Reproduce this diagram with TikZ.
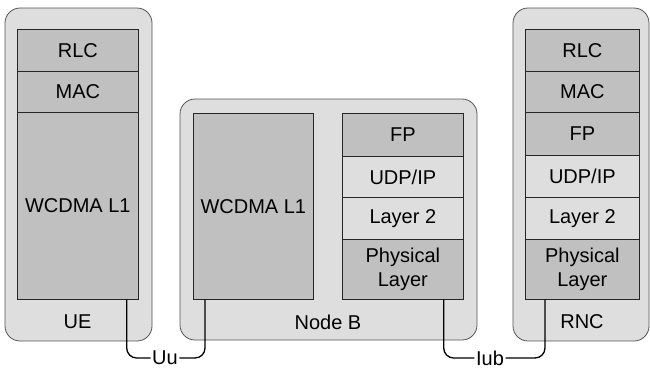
\documentclass[tikz,border=0pt]{standalone}
\usepackage{fontspec}
\setmainfont{Liberation Sans}
\definecolor{shell}{HTML}{DEDEDE}
\definecolor{layerdark}{HTML}{C0C0C0}
\definecolor{shellline}{HTML}{555555}
\begin{document}
\begin{tikzpicture}[x=1pt,y=-1pt,
    font=\fontsize{20}{24.5}\selectfont,
    box/.style={draw=shellline, fill=shell, line width=0.8pt, rounded corners=15pt},
    dark/.style={draw=black!85, fill=layerdark, line width=0.7pt, anchor=north west, inner sep=0pt, align=center},
    light/.style={dark, fill=shell},
    link/.style={draw=black, line width=1.3pt, rounded corners=10pt}]
\useasboundingbox (0,0) rectangle (650,368);

% UE
\draw[box] (5,8) rectangle (152,341);
\node[dark, minimum width=121pt, minimum height=42pt] (uerlc) at (17,29) {RLC};
\node[dark, minimum width=121pt, minimum height=41pt] (uemac) at (17,71) {MAC};
\node[dark, minimum width=121pt, minimum height=187pt] (uel1) at (17,112) {WCDMA L1};
\node (uename) at (77.5,322) {UE};

% Node B
\draw[box] (180,99) rectangle (477,340);
\node[dark, minimum width=120pt, minimum height=186pt] (nbl1) at (193,113) {WCDMA L1};
\node[dark, minimum width=121pt, minimum height=43pt] (nbfp) at (342,113) {FP};
\node[light, minimum width=121pt, minimum height=41pt] (nbudp) at (342,156) {UDP/IP};
\node[light, minimum width=121pt, minimum height=42pt] (nbl2) at (342,197) {Layer 2};
\node[dark, minimum width=121pt, minimum height=60pt] (nbphy) at (342,239) {Physical\\Layer};
\node (nbname) at (328,322) {Node B};

% RNC
\draw[box] (513,8) rectangle (649,341);
\node[dark, minimum width=114pt, minimum height=42pt] (rncrlc) at (525,29) {RLC};
\node[dark, minimum width=114pt, minimum height=41pt] (rncmac) at (525,71) {MAC};
\node[dark, minimum width=114pt, minimum height=43pt] (rncfp) at (525,112) {FP};
\node[light, minimum width=114pt, minimum height=42pt] (rncudp) at (525,155) {UDP/IP};
\node[light, minimum width=114pt, minimum height=42pt] (rncl2) at (525,197) {Layer 2};
\node[dark, minimum width=114pt, minimum height=60pt] (rncphy) at (525,239) {Physical\\Layer};
\node (rncname) at (582,322) {RNC};

% interfaces
\node[inner sep=1.5pt] (uu) at (165,358) {Uu};
\node[inner sep=1.5pt] (iub) at (490,358) {Iub};
\draw[link] ([xshift=-12pt]uel1.south east) |- (uu);
\draw[link] (uu) -| ([xshift=12pt]nbl1.south west);
\draw[link] ([xshift=-20pt]nbphy.south east) |- (iub);
\draw[link] (iub) -| ([xshift=20pt]rncphy.south west);
\end{tikzpicture}
\end{document}
